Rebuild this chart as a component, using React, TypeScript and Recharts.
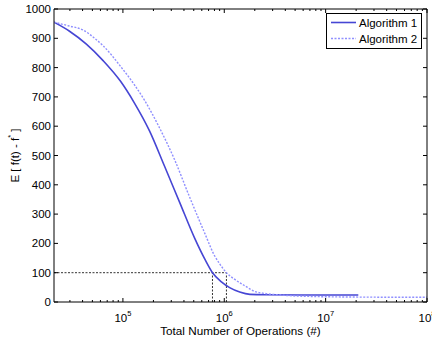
import React from 'react';
import { LineChart, Line, XAxis, YAxis, ReferenceLine, Legend } from 'recharts';

// ---- data ----
const alg1Ops = [2.09e4, 2.95e4, 4.36e4, 6.41e4, 9.44e4, 1.3e5, 1.83e5, 2.57e5, 3.62e5, 5.1e5, 6.41e5, 7.65e5, 9.44e5, 1.13e6, 1.42e6, 1.79e6, 2.52e6, 5.6e6, 2.1e7];
const alg1Err = [955, 925, 880, 823, 754, 679, 584, 464, 341, 218, 147, 100, 68, 49, 34, 26, 24.5, 24, 24];
const alg2Ops = [2.09e4, 2.95e4, 4.06e4, 5.22e4, 6.41e4, 9.44e4, 1.3e5, 1.63e5, 2.3e5, 3.24e5, 4.55e5, 5.71e5, 6.41e5, 8.05e5, 9.02e5, 1.05e6, 1.27e6, 1.6e6, 2.0e6, 2.52e6, 3.55e6, 5.6e6, 1.75e7, 1.0e8];
const alg2Err = [955, 942, 928, 901, 874, 805, 741, 689, 594, 485, 358, 276, 235, 157, 130, 100, 77, 55, 36, 29, 24, 20, 17, 16];

const seriesNames = ['Algorithm 1', 'Algorithm 2'];
const xMajorTicks = [1e5, 1e6, 1e7, 1e8];
const minorMultipliers = [2, 3, 4, 5, 6, 7, 8, 9];
const minorDecades = [1e4, 1e5, 1e6, 1e7];
const yTicks = [0, 100, 200, 300, 400, 500, 600, 700, 800, 900, 1000];
const xDomain = [2.09e4, 1e8];
const yDomain = [0, 1000];
const thresholdValue = 100;
const alg1Hit = 7.65e5;
const alg2Hit = 1.05e6;

const xMinorTicks = minorDecades
  .flatMap((d) => minorMultipliers.map((m) => m * d))
  .filter((v) => v > xDomain[0] && v < xDomain[1]);
const xAllTicks = [...xMinorTicks, ...xMajorTicks].sort((a, b) => a - b);

const alg1Data = alg1Ops.map((ops, i) => ({ ops, err: alg1Err[i] }));
const alg2Data = alg2Ops.map((ops, i) => ({ ops, err: alg2Err[i] }));

const FONT = '"Liberation Sans", Arial, Helvetica, sans-serif';
const C1 = '#4646d4';
const C2 = '#9090ff';

const isMajor = (v: number) => Math.abs(Math.log10(v) - Math.round(Math.log10(v))) < 1e-6;

const XTick = (dir: number, showLabel: boolean) => (props: any) => {
  const { x, y, payload } = props;
  const v = payload.value;
  const major = isMajor(v);
  const len = major ? 4 : 2;
  return (
    <g>
      <line x1={x} x2={x} y1={y} y2={y + dir * len} stroke="#000" strokeWidth={1} />
      {showLabel && major && (
        <text x={x} y={y + 20} textAnchor="middle" fontSize={11.5} fontFamily={FONT} fill="#000">
          10
          <tspan dy={-6} fontSize={7.5}>{Math.round(Math.log10(v))}</tspan>
        </text>
      )}
    </g>
  );
};

const YTick = (dir: number, showLabel: boolean) => (props: any) => {
  const { x, y, payload } = props;
  return (
    <g>
      <line x1={x} x2={x + dir * 4} y1={y} y2={y} stroke="#000" strokeWidth={1} />
      {showLabel && (
        <text x={x - 3} y={y + 4} textAnchor="end" fontSize={11.5} fontFamily={FONT} fill="#000">
          {payload.value}
        </text>
      )}
    </g>
  );
};

const YLabel = (props: any) => {
  const vb = props.viewBox || {};
  const cy = vb.y + vb.height / 2;
  const cx = 15;
  return (
    <text
      x={cx}
      y={cy}
      transform={`rotate(-90 ${cx} ${cy})`}
      textAnchor="middle"
      dominantBaseline="central"
      fontSize={11.5}
      fontFamily={FONT}
      fill="#000"
    >
      E [ f(t) - f<tspan dy={-5} fontSize={7.5}>*</tspan>
      <tspan dy={5}> ]</tspan>
    </text>
  );
};

const XLabel = (props: any) => {
  const vb = props.viewBox || {};
  const cx = vb.x + vb.width / 2;
  return (
    <text x={cx} y={335} textAnchor="middle" fontSize={11.7} fontFamily={FONT} fill="#000">
      Total Number of Operations (#)
    </text>
  );
};

const LegendBox = () => (
  <svg width={96} height={36} style={{ display: 'block' }}>
    <rect x={0.5} y={0.5} width={95} height={35} fill="#fff" stroke="#000" strokeWidth={1} />
    <line x1={5} x2={30} y1={9.5} y2={9.5} stroke={C1} strokeWidth={1.6} />
    <text x={33} y={13.5} fontSize={11.5} fontFamily={FONT} fill="#000">{seriesNames[0]}</text>
    <line x1={5} x2={30} y1={25.5} y2={25.5} stroke={C2} strokeWidth={1.4} strokeDasharray="2 1.5" />
    <text x={33} y={29.5} fontSize={11.5} fontFamily={FONT} fill="#000">{seriesNames[1]}</text>
  </svg>
);

const axisCommon = {
  type: 'number' as const,
  allowDataOverflow: true,
  interval: 0 as const,
  tickSize: 0,
  tickMargin: 0,
  tickLine: false,
  axisLine: { stroke: '#000', strokeWidth: 1 },
};

export default function App() {
  return (
    <div style={{ position: 'absolute', left: 0, top: 0, width: 432, height: 342, background: '#fff' }}>
      <LineChart width={432} height={342} margin={{ top: 8, right: 4, bottom: 0, left: 0 }}>
        <XAxis
          {...axisCommon}
          xAxisId="main"
          dataKey="ops"
          scale="log"
          domain={xDomain}
          ticks={xAllTicks}
          height={40}
          tick={XTick(-1, true)}
          label={<XLabel />}
        />
        <XAxis
          {...axisCommon}
          xAxisId="top"
          orientation="top"
          dataKey="ops"
          scale="log"
          domain={xDomain}
          ticks={xAllTicks}
          height={1}
          tick={XTick(1, false)}
        />
        <YAxis
          {...axisCommon}
          yAxisId="main"
          domain={yDomain}
          ticks={yTicks}
          width={54}
          tick={YTick(1, true)}
          label={<YLabel />}
        />
        <YAxis
          {...axisCommon}
          yAxisId="right"
          orientation="right"
          domain={yDomain}
          ticks={yTicks}
          width={1}
          tick={YTick(-1, false)}
        />
        <ReferenceLine
          xAxisId="main"
          yAxisId="main"
          segment={[{ x: xDomain[0], y: thresholdValue }, { x: alg2Hit, y: thresholdValue }]}
          stroke="#333"
          strokeWidth={1}
          strokeDasharray="2 1.5"
        />
        <ReferenceLine
          xAxisId="main"
          yAxisId="main"
          segment={[{ x: alg1Hit, y: 0 }, { x: alg1Hit, y: thresholdValue }]}
          stroke="#333"
          strokeWidth={1}
          strokeDasharray="2 1.5"
        />
        <ReferenceLine
          xAxisId="main"
          yAxisId="main"
          segment={[{ x: alg2Hit, y: 0 }, { x: alg2Hit, y: thresholdValue }]}
          stroke="#333"
          strokeWidth={1}
          strokeDasharray="2 1.5"
        />
        {/* invisible series binding the mirrored top/right axes */}
        <Line
          xAxisId="top"
          yAxisId="right"
          data={alg2Data}
          dataKey="err"
          stroke="none"
          legendType="none"
          dot={false}
          activeDot={false}
          isAnimationActive={false}
        />
        <Line
          xAxisId="main"
          yAxisId="main"
          data={alg1Data}
          dataKey="err"
          name={seriesNames[0]}
          type="monotone"
          stroke={C1}
          strokeWidth={1.6}
          dot={false}
          activeDot={false}
          isAnimationActive={false}
        />
        <Line
          xAxisId="main"
          yAxisId="main"
          data={alg2Data}
          dataKey="err"
          name={seriesNames[1]}
          type="monotone"
          stroke={C2}
          strokeWidth={1.4}
          strokeDasharray="2 1.5"
          dot={false}
          activeDot={false}
          isAnimationActive={false}
        />
        <Legend
          layout="vertical"
          align="center"
          verticalAlign="middle"
          content={<LegendBox />}
          wrapperStyle={{ position: 'absolute', left: 326, top: 13, width: 96, height: 36, margin: 0 }}
        />
      </LineChart>
    </div>
  );
}
